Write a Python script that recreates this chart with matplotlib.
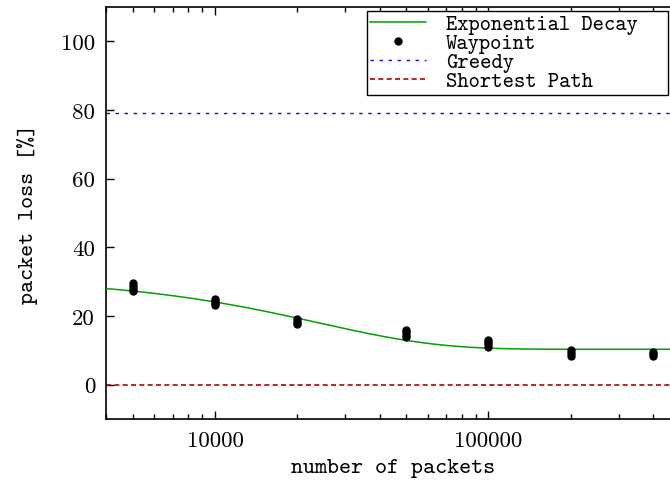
import numpy as np
import matplotlib
matplotlib.use('Agg')
from matplotlib import pyplot as plt
from matplotlib.ticker import LogLocator, NullFormatter

# waypoint measurements (several runs per packet count)
wp_packets = [5000]*4 + [10000]*4 + [20000]*3 + [50000]*4 + [100000]*4 + [200000]*3 + [400000]*3
wp_loss = [27.2, 28.0, 28.8, 29.7,
           23.1, 23.8, 24.4, 24.9,
           17.6, 18.3, 19.0,
           13.8, 14.6, 15.3, 16.0,
           11.0, 11.8, 12.5, 13.0,
           8.4, 9.2, 10.0,
           8.2, 8.8, 9.5]

# fitted exponential decay parameters
decay_amp = 20.9
decay_scale = 24000.0
decay_offset = 10.3

greedy_loss = 79.2
shortest_loss = 0.0

yticks = [0, 20, 40, 60, 80, 100]
xticks = [10000, 100000]

fig = plt.figure(figsize=(6.7, 4.81), dpi=100)
ax = fig.add_axes([0.1585, 0.127, 0.8554, 0.856])

xs = np.logspace(np.log10(4000), np.log10(500000), 400)
ax.plot(xs, decay_amp*np.exp(-xs/decay_scale) + decay_offset, color='#00a000', lw=1.1,
        label='Exponential Decay', zorder=3)
ax.plot(wp_packets, wp_loss, 'o', color='black', ms=5, label='Waypoint', zorder=4)
ax.axhline(greedy_loss, color='#1010d0', lw=1.0, ls=(0, (2.5, 4)), label='Greedy')
ax.axhline(shortest_loss, color='#b00000', lw=1.2, ls=(0, (3, 2)), label='Shortest Path')

ax.set_xscale('log')
ax.set_xlim(4000, 500000)
ax.set_ylim(-10, 110)
ax.set_xticks(xticks)
ax.set_xticklabels([str(t) for t in xticks])
ax.xaxis.set_minor_locator(LogLocator(base=10, subs=np.arange(2, 10)))
ax.xaxis.set_minor_formatter(NullFormatter())
ax.set_yticks(yticks)
ax.set_yticklabels([str(t) for t in yticks])

ax.tick_params(which='both', direction='in', top=True, right=True, labelsize=16.5,
               width=1.0)
ax.tick_params(which='major', length=6, pad=8)
ax.tick_params(which='minor', length=3.5)
for lab in ax.get_xticklabels() + ax.get_yticklabels():
    lab.set_family('cmr10')
for s in ax.spines.values():
    s.set_linewidth(1.2)

ax.set_xlabel('number of packets', family='cmtt10', fontsize=16.5, labelpad=6)
ax.set_ylabel('packet loss [%]', family='cmtt10', fontsize=16.5, labelpad=16.5)

leg = ax.legend(loc='upper left', bbox_to_anchor=(0.548, 0.0, 0.449, 0.975),
                bbox_transform=fig.transFigure, mode='expand',
                prop={'family': 'cmtt10', 'size': 15.5}, numpoints=1, handlelength=2.6,
                labelspacing=-0.05, borderpad=0.15, handletextpad=0.9, borderaxespad=0,
                fancybox=False, framealpha=1, edgecolor='black')
leg.get_frame().set_linewidth(1.0)

plt.savefig('out.png', dpi=100)
